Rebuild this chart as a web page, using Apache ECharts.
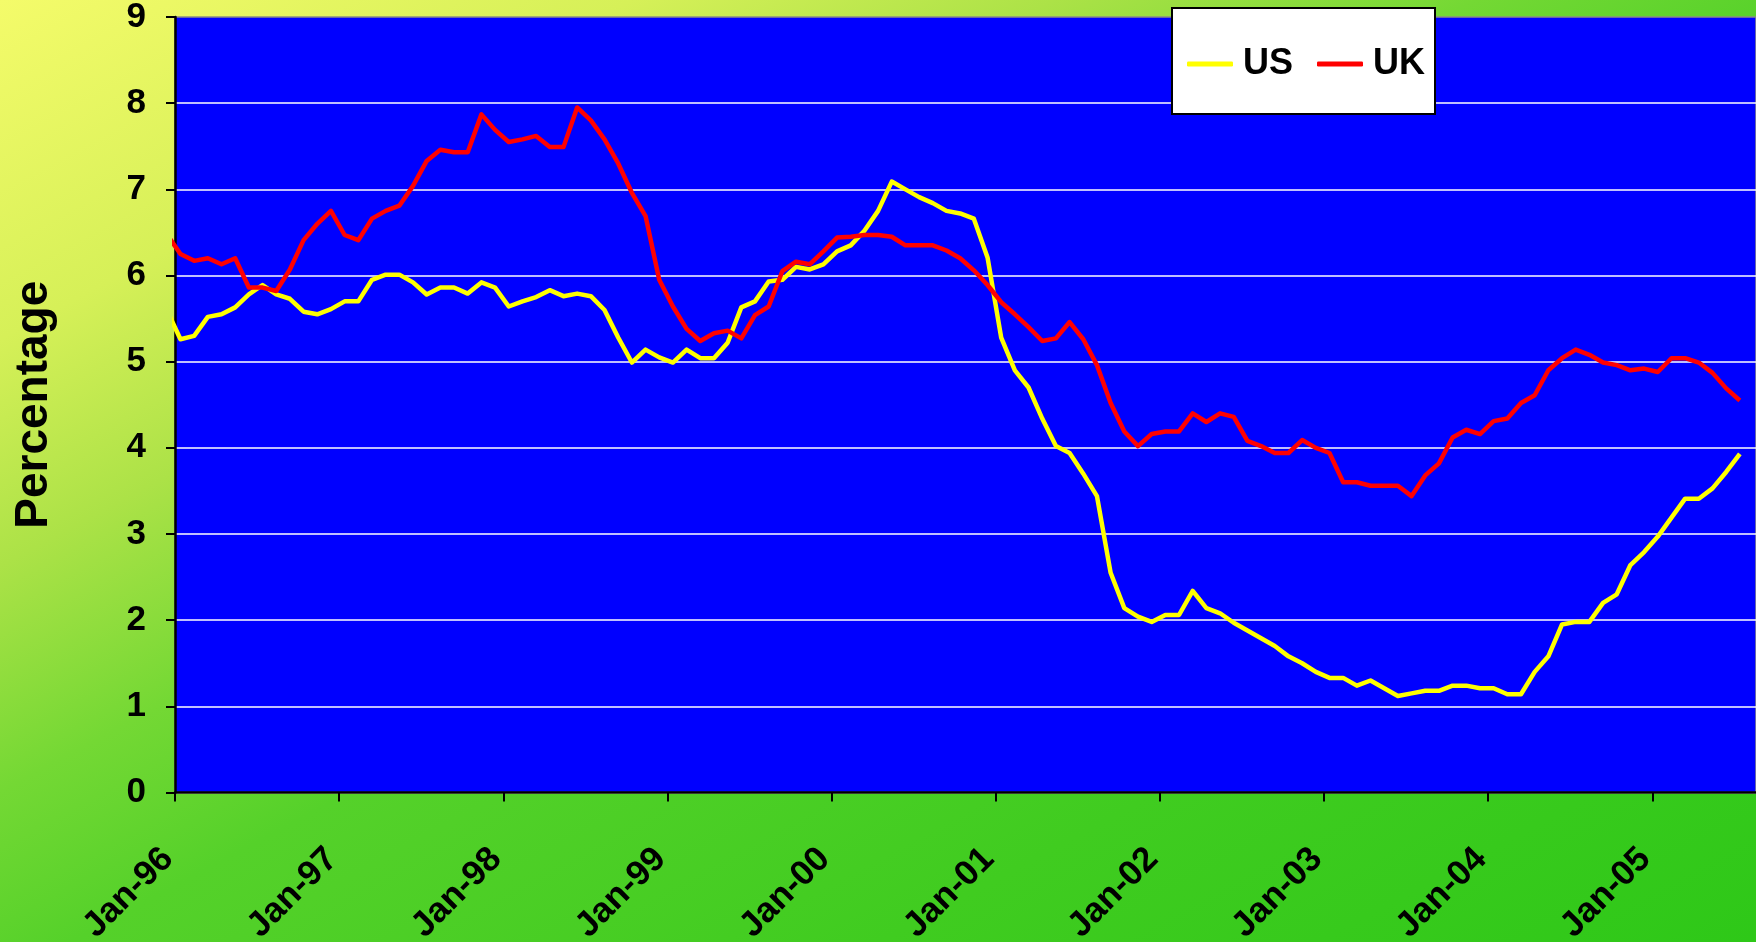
<!DOCTYPE html>
<html>
<head>
<meta charset="utf-8">
<script src="https://cdn.jsdelivr.net/npm/echarts@6/dist/echarts.min.js"></script>
<style>
html, body { margin: 0; padding: 0; }
#chart { width: 1756px; height: 942px; }
</style>
</head>
<body>
<div id="chart"></div>
<script>
// Tick labels on the month axis (every 12 months from Jan-96)
const tickLabels = ['Jan-96', 'Jan-97', 'Jan-98', 'Jan-99', 'Jan-00', 'Jan-01', 'Jan-02', 'Jan-03', 'Jan-04', 'Jan-05'];
const seriesNames = ['US', 'UK'];
// Monthly values, first value is Dec-95 (month -1 relative to Jan-96), last is Jul-05
const firstMonth = -1;
const dayOfMonthOffset = 0.4; // values are dated part-way through each month
const usRates = [
  5.60,
  5.26, 5.30, 5.52, 5.55, 5.63, 5.78, 5.89, 5.78, 5.73, 5.58, 5.55, 5.61,
  5.70, 5.70, 5.95, 6.01, 6.01, 5.92, 5.78, 5.86, 5.86, 5.79, 5.92, 5.86,
  5.64, 5.70, 5.75, 5.83, 5.76, 5.79, 5.76, 5.60, 5.28, 4.99, 5.14, 5.05,
  4.99, 5.14, 5.04, 5.04, 5.22, 5.63, 5.70, 5.93, 5.95, 6.10, 6.07, 6.13,
  6.28, 6.35, 6.52, 6.75, 7.09, 7.00, 6.91, 6.84, 6.75, 6.72, 6.66, 6.21,
  5.28, 4.90, 4.70, 4.34, 4.02, 3.94, 3.70, 3.44, 2.55, 2.14, 2.04, 1.98,
  2.06, 2.06, 2.34, 2.14, 2.08, 1.97, 1.88, 1.79, 1.70, 1.58, 1.50, 1.40,
  1.33, 1.33, 1.24, 1.30, 1.21, 1.12, 1.15, 1.18, 1.18, 1.24, 1.24, 1.21,
  1.21, 1.14, 1.14, 1.40, 1.58, 1.95, 1.98, 1.98, 2.20, 2.30, 2.64, 2.79,
  2.97, 3.19, 3.41, 3.41, 3.53, 3.72, 3.93
];
const ukRates = [
  6.48,
  6.25, 6.17, 6.20, 6.13, 6.20, 5.86, 5.86, 5.82, 6.07, 6.41, 6.60, 6.75,
  6.47, 6.41, 6.66, 6.75, 6.81, 7.04, 7.33, 7.46, 7.43, 7.43, 7.87, 7.69,
  7.55, 7.58, 7.62, 7.49, 7.49, 7.95, 7.80, 7.58, 7.30, 6.96, 6.69, 5.95,
  5.64, 5.38, 5.24, 5.33, 5.36, 5.27, 5.54, 5.64, 6.05, 6.16, 6.13, 6.28,
  6.44, 6.45, 6.47, 6.47, 6.45, 6.35, 6.35, 6.35, 6.29, 6.20, 6.06, 5.89,
  5.69, 5.55, 5.40, 5.24, 5.27, 5.46, 5.26, 4.96, 4.52, 4.19, 4.02, 4.16,
  4.19, 4.19, 4.40, 4.30, 4.40, 4.36, 4.08, 4.02, 3.94, 3.94, 4.09, 4.00,
  3.94, 3.60, 3.60, 3.56, 3.56, 3.56, 3.44, 3.68, 3.82, 4.12, 4.21, 4.16,
  4.31, 4.34, 4.52, 4.61, 4.90, 5.04, 5.14, 5.08, 4.99, 4.96, 4.90, 4.92,
  4.88, 5.04, 5.04, 4.99, 4.87, 4.69, 4.55
];

const toPoints = arr => arr.map((v, i) => [firstMonth + i + dayOfMonthOffset, v]);

const chart = echarts.init(document.getElementById('chart'), null, { renderer: 'canvas' });
const font = '"Liberation Sans", Arial, sans-serif';

chart.setOption({
  animation: false,
  graphic: [{
    type: 'rect',
    z: -100,
    silent: true,
    shape: { x: 0, y: 0, width: 1756, height: 942 },
    style: {
      fill: {
        type: 'linear', x: 0, y: 0, x2: 785, y2: 1463, global: true,
        colorStops: [
          { offset: 0, color: '#F4FB6A' },
          { offset: 0.18, color: '#D6F058' },
          { offset: 0.30, color: '#ACE247' },
          { offset: 0.42, color: '#74D834' },
          { offset: 0.52, color: '#55D12A' },
          { offset: 0.75, color: '#40CC20' },
          { offset: 1, color: '#2EC818' }
        ]
      }
    }
  }],
  grid: {
    left: 175, top: 17, right: 0, height: 775.5,
    outerBoundsMode: 'none', containLabel: false,
    show: true, backgroundColor: '#0000FF', borderColor: '#8a8a8a', borderWidth: 1.5
  },
  legend: {
    data: seriesNames,
    left: 1172, top: 8,
    orient: 'horizontal',
    icon: 'roundRect',
    itemWidth: 46, itemHeight: 5, itemGap: 24,
    padding: [38, 10, 32, 15],
    backgroundColor: '#FFFFFF', borderColor: '#000000', borderWidth: 2,
    textStyle: { fontFamily: font, fontWeight: 'bold', fontSize: 36, color: '#000', padding: [0, 0, 0, 5] }
  },
  xAxis: {
    type: 'value',
    min: 0, max: 115.58, interval: 12,
    axisLine: { show: true, onZero: false, lineStyle: { color: '#000', width: 2.5 } },
    axisTick: { show: true, length: 9, lineStyle: { color: '#000', width: 2 } },
    splitLine: { show: false },
    axisLabel: {
      rotate: 45, margin: 54, padding: [0, 10, 0, 0],
      fontFamily: font, fontWeight: 'bold', fontSize: 35, color: '#000',
      showMaxLabel: false,
      formatter: v => (v % 12 === 0 ? (tickLabels[v / 12] || '') : '')
    }
  },
  yAxis: {
    type: 'value',
    min: 0, max: 9, interval: 1,
    name: 'Percentage', nameLocation: 'middle', nameGap: 118, nameRotate: 90,
    nameTextStyle: { fontFamily: font, fontWeight: 'bold', fontSize: 46, color: '#000' },
    axisLine: { show: true, lineStyle: { color: '#000', width: 2.5 } },
    axisTick: { show: true, length: 9, lineStyle: { color: '#000', width: 2 } },
    splitLine: { show: true, showMaxLine: false, lineStyle: { color: '#FFFFFF', width: 1.5 } },
    axisLabel: { margin: 29, fontFamily: font, fontWeight: 'bold', fontSize: 35, color: '#000' }
  },
  series: [
    {
      name: seriesNames[0], type: 'line', data: toPoints(usRates),
      symbol: 'none', clip: true,
      lineStyle: { color: '#FFFF00', width: 4.5, join: 'round' },
      itemStyle: { color: '#FFFF00' }
    },
    {
      name: seriesNames[1], type: 'line', data: toPoints(ukRates),
      symbol: 'none', clip: true,
      lineStyle: { color: '#FF0000', width: 4.5, join: 'round' },
      itemStyle: { color: '#FF0000' }
    }
  ]
});
</script>
</body>
</html>
